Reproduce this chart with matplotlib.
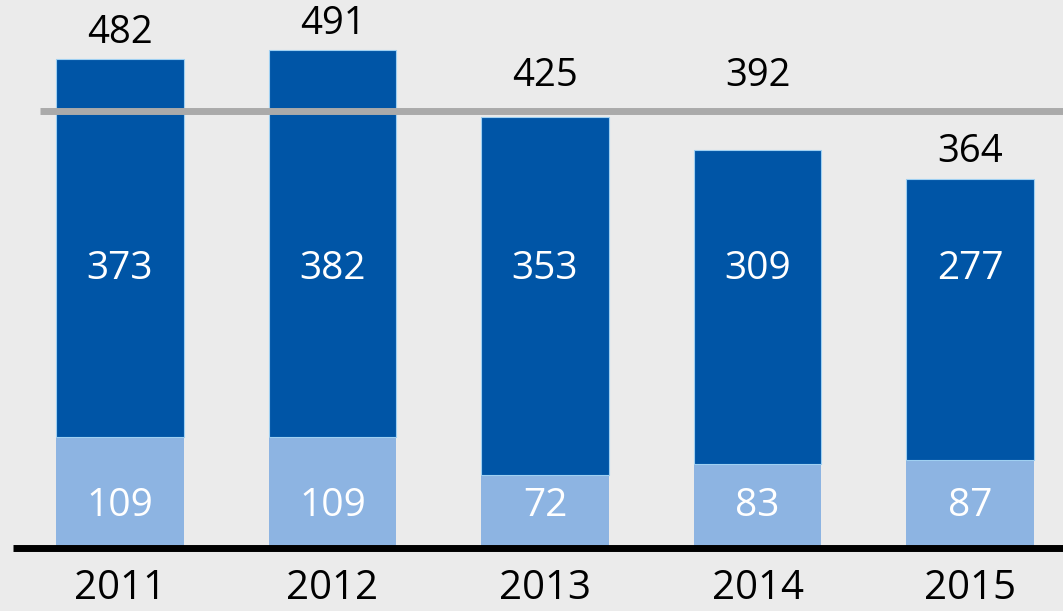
import numpy as np
import matplotlib.pyplot as plt

plt.rcParams['font.family'] = ['Open Sans', 'DejaVu Sans']

years = ['2011', '2012', '2013', '2014', '2015']
lower = [109, 109, 72, 83, 87]
upper = [373, 382, 353, 309, 277]
totals = [482, 491, 425, 392, 364]
ref_line = 431

bg = '#ebebeb'
dark = '#0055a6'
light = '#8db4e2'

fig = plt.figure(figsize=(10.63, 6.11), dpi=100)
fig.patch.set_facecolor(bg)
ax = fig.add_axes([0, 0, 1, 1])
ax.set_facecolor(bg)

x = np.arange(len(years))
w = 0.6
ax.bar(x, lower, w, color=light, zorder=2)
ax.bar(x, upper, w, bottom=lower, color=dark, edgecolor='#9fd0f2', linewidth=0.8, zorder=2)

# reference line drawn over the bars, baseline at zero
ax.plot([-0.376, 4.5], [ref_line, ref_line], color='#aaaaaa', lw=5, solid_capstyle='butt', zorder=3)
ax.plot([-0.503, 4.5], [0, 0], color='black', lw=5, solid_capstyle='butt', zorder=4)

for i in range(len(years)):
    ax.text(x[i], 41, str(lower[i]), color='white', fontsize=28, ha='center', va='center', zorder=5)
    ax.text(x[i], 275, str(upper[i]), color='white', fontsize=28, ha='center', va='center', zorder=5)
    ty = totals[i] + 26
    if abs(ty - ref_line) < 40:
        ty = ref_line + 34
    ax.text(x[i], ty, str(totals[i]), color='black', fontsize=27.5, ha='center', va='center', zorder=5)
    ax.text(x[i], -40, years[i], color='black', fontsize=29, ha='center', va='center', zorder=5)

ax.set_xlim(-0.5647, 4.4376)
ax.set_ylim(-62.1, 540.2)
ax.axis('off')

fig.savefig('out.png', dpi=100, facecolor=bg)
